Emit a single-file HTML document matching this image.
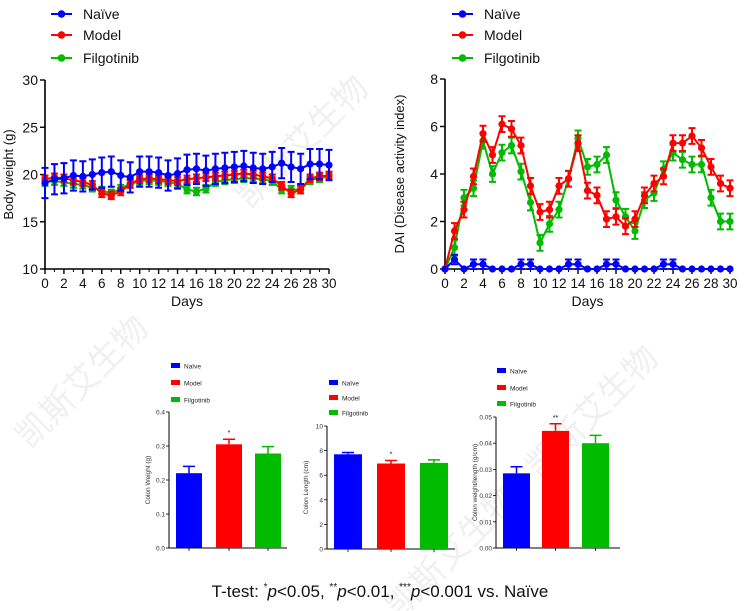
<!DOCTYPE html>
<html><head><meta charset="utf-8"><style>
body{margin:0;background:#fff;}
svg{display:block;font-family:"Liberation Sans",Arial,sans-serif;}
</style></head><body>
<svg id="fig" width="750" height="611" viewBox="0 0 750 611">
<g id="wm" fill="#f0f0f0" font-family="'Liberation Sans','Noto Sans CJK SC',sans-serif" font-size="34">
<text transform="translate(250,210) rotate(-45)">凯斯艾生物</text>
<text transform="translate(30,450) rotate(-45)">凯斯艾生物</text>
<text transform="translate(540,480) rotate(-45)">凯斯艾生物</text>
<text transform="translate(400,620) rotate(-45)">凯斯艾生物</text>
</g>
<g id="root"></g>
<text x="380" y="597" text-anchor="middle" font-size="17" fill="#111">T-test: <tspan font-size="10" dy="-7">*</tspan><tspan dy="7" font-style="italic">p</tspan>&lt;0.05, <tspan font-size="10" dy="-7">**</tspan><tspan dy="7" font-style="italic">p</tspan>&lt;0.01, <tspan font-size="10" dy="-7">***</tspan><tspan dy="7" font-style="italic">p</tspan>&lt;0.001 vs. Naïve</text>
</svg>
<script>
const groups = ["Naïve","Model","Filgotinib"];
const bwNaive = [19.1,19.5,19.6,19.9,19.8,20,20.2,20.3,19.9,19.7,20.3,20.3,20.2,19.9,20.1,20.5,20.6,20.4,20.6,20.7,20.8,20.9,20.7,20.6,20.8,21.2,20.8,20.6,21.1,21.1,21.0];
const bwNaiveErr = 1.6;
const bwModel = [19.5,19.7,19.6,19.4,19.2,18.9,18.0,17.8,18.2,19.0,19.5,19.6,19.5,19.4,19.3,19.5,19.6,19.7,19.8,19.9,20.0,20.1,20.0,19.8,19.6,18.8,18.0,18.4,19.6,19.8,19.9];
const bwModelErr = 0.4;
const bwFilgo = [19.2,19.3,19.2,19.0,18.9,18.6,18.3,18.0,18.5,19.0,19.3,19.4,19.3,19.2,19.0,18.4,18.2,18.5,19.2,19.4,19.5,19.6,19.6,19.5,19.3,18.4,18.4,18.4,19.4,19.6,19.8];
const bwFilgoErr = 0.4;
const daiNaive = [0,0.4,0,0.2,0.2,0,0,0,0.2,0.2,0,0,0,0.2,0.2,0,0,0.2,0.2,0,0,0,0,0.2,0.2,0,0,0,0,0,0];
const daiModel = [0,1.6,2.5,3.9,5.7,4.8,6.1,5.9,5.2,3.5,2.4,2.5,3.5,3.8,5.3,3.3,3.1,2.1,2.2,1.8,2.1,3.1,3.6,3.9,5.3,5.3,5.6,5.1,4.3,3.6,3.4];
const daiFilgo = [0,0.9,3.0,3.4,5.4,4.0,4.9,5.2,4.1,2.8,1.1,1.9,2.5,3.8,5.5,4.3,4.4,4.8,2.9,2.2,1.6,2.9,3.2,4.2,4.9,4.6,4.4,4.4,3.0,2.0,2.0];
const daiErr = 0.33;
const colonWeight = [0.22,0.305,0.278];
const colonWeightErr = [0.02,0.015,0.02];
const colonLength = [7.7,6.95,7.0];
const colonLengthErr = [0.15,0.25,0.25];
const colonRatio = [0.0285,0.0447,0.040];
const colonRatioErr = [0.0025,0.0027,0.003];
const sigMarks = [["","*",""],["","*",""],["","**",""]];
const colors = ["#0000ff","#ff0000","#00bb00"];

const NS="http://www.w3.org/2000/svg";
const root=document.getElementById('root');
function mk(tag,attrs,parent,txt){const e=document.createElementNS(NS,tag);for(const k in attrs)e.setAttribute(k,attrs[k]);if(txt!==undefined)e.textContent=txt;(parent||root).appendChild(e);return e;}

function lineChart(o){
  const g=mk('g',{});
  
  
  const sx=v=>o.x0+(o.x1-o.x0)*v/30;
  const sy=v=>o.y0+(o.y1-o.y0)*(v-o.ymin)/(o.ymax-o.ymin);
  const ax=mk('path',{d:`M${o.x0},${o.y1} V${o.y0} H${o.x1}`,stroke:'#000','stroke-width':1.6,fill:'none'},g);
  
  
  o.yticks.forEach(t=>{
    mk('line',{x1:o.x0-5,x2:o.x0,y1:sy(t),y2:sy(t),stroke:'#000','stroke-width':1.4},g);
    const tl=mk('text',{x:o.x0-7,y:sy(t)+5,'text-anchor':'end','font-size':14,fill:'#111'},g,t);
    
    
  });
  for(let d=0;d<=30;d+=2){
    mk('line',{x1:sx(d),x2:sx(d),y1:o.y0,y2:o.y0+5,stroke:'#000','stroke-width':1.4},g);
    const tl=mk('text',{x:sx(d),y:o.y0+19,'text-anchor':'middle','font-size':13.5,fill:'#111'},g,d);
    
    
  }
  for(let d=1;d<30;d+=2) mk('line',{x1:sx(d),x2:sx(d),y1:o.y0,y2:o.y0+3,stroke:'#000','stroke-width':1},g);
  const xt=mk('text',{x:(o.x0+o.x1)/2,y:o.y0+37,'text-anchor':'middle','font-size':14,fill:'#111'},g,'Days');
  
  
  const yt=mk('text',{transform:`translate(${o.ytx},${(o.y0+o.y1)/2}) rotate(-90)`,'text-anchor':'middle','font-size':13,fill:'#111'},g,o.ytitle);
  
  
  [2,1,0].forEach(i=>{
    const s=o.series[i], err=o.errs[i];
    const sg=mk('g',{},g);
    
    
    mk('polyline',{points:s.map((v,d)=>sx(d)+','+sy(v)).join(' '),fill:'none',stroke:colors[i],'stroke-width':2},sg);
    s.forEach((v,d)=>{
      const e=Array.isArray(err)?err[d]:err;
      if(e>0&&v>0){
        const yh=sy(v+e), yl=sy(Math.max(o.ymin,v-e));
        mk('path',{d:`M${sx(d)},${yh}V${yl}M${sx(d)-3.5},${yh}h7M${sx(d)-3.5},${yl}h7`,stroke:colors[i],'stroke-width':2,fill:'none'},sg);
      }
      const c=mk('circle',{cx:sx(d),cy:sy(v),r:3.6,fill:colors[i]},sg);
      
      
    });
  });
  groups.forEach((n,i)=>{
    const y=o.legY[i];
    const lg=mk('g',{});
    
    
    mk('line',{x1:o.legX,x2:o.legX+21,y1:y,y2:y,stroke:colors[i],'stroke-width':2},lg);
    mk('circle',{cx:o.legX+10.5,cy:y,r:3.8,fill:colors[i]},lg);
    mk('text',{x:o.legX+32,y:y+5,'font-size':14,fill:'#111'},lg,n);
  });
}
lineChart({name:'body-weight-chart',x0:45,x1:329,y0:269,y1:80,ymin:10,ymax:30,yticks:[10,15,20,25,30],ytitle:'Body weight (g)',ytx:13,
  series:[bwNaive,bwModel,bwFilgo],errs:[bwNaiveErr,bwModelErr,bwFilgoErr],legX:51,legY:[14,35,58]});
lineChart({name:'dai-chart',x0:445,x1:730,y0:269,y1:79,ymin:0,ymax:8,yticks:[0,2,4,6,8],ytitle:'DAI (Disease activity index)',ytx:404,
  series:[daiNaive,daiModel,daiFilgo],errs:[0.2,daiErr,daiErr],legX:452,legY:[14,35,58]});

function barChart(o){
  const g=mk('g',{});
  
  
  const sy=v=>o.y0+(o.y1-o.y0)*v/o.ymax;
  mk('path',{d:`M${o.x0},${o.y1} V${o.y0} H${o.xe}`,stroke:'#000','stroke-width':1,fill:'none'},g);
  o.ticks.forEach((t,k)=>{
    mk('line',{x1:o.x0-3,x2:o.x0,y1:sy(t),y2:sy(t),stroke:'#000','stroke-width':0.8},g);
    const tl=mk('text',{x:o.x0-4,y:sy(t)+2.5,'text-anchor':'end','font-size':6.5,fill:'#333'},g,o.tickLabels[k]);
    
    
  });
  const yt=mk('text',{transform:`translate(${o.x0-19},${(o.y0+o.y1)/2}) rotate(-90)`,'text-anchor':'middle','font-size':6.5,fill:'#333'},g,o.ytitle);
  
  
  o.vals.forEach((v,i)=>{
    const bx=o.bx[i], w=o.bw;
    const b=mk('rect',{x:bx,y:sy(v),width:w,height:o.y0-sy(v),fill:colors[i]},g);
    
    
    const cx=bx+w/2, yh=sy(v+o.errs[i]);
    mk('path',{d:`M${cx},${sy(v)}V${yh}M${cx-6},${yh}h12`,stroke:colors[i],'stroke-width':1.5,fill:'none'},g);
    mk('line',{x1:cx,x2:cx,y1:o.y0,y2:o.y0+3,stroke:'#000','stroke-width':0.8},g);
    if(o.sig[i]){const s=mk('text',{x:cx,y:yh-4,'text-anchor':'middle','font-size':7,fill:'#111'},g,o.sig[i]);
      
      }
  });
  groups.forEach((n,i)=>{
    const lg=mk('g',{});
    
    
    mk('rect',{x:o.lx,y:o.ly[i]-3,width:9,height:5,fill:colors[i]},lg);
    mk('text',{x:o.lx+13,y:o.ly[i]+2.5,'font-size':6.5,fill:'#222'},lg,n);
  });
}
barChart({name:'colon-weight-chart',x0:169,xe:287,y0:548,y1:412,ymax:0.4,ticks:[0,0.1,0.2,0.3,0.4],tickLabels:['0.0','0.1','0.2','0.3','0.4'],
  ytitle:'Colon Weight (g)',vals:colonWeight,errs:colonWeightErr,sig:sigMarks[0],bx:[176,216,255],bw:26,lx:171,ly:[366,383,400]});
barChart({name:'colon-length-chart',x0:327,xe:455,y0:549,y1:426,ymax:10,ticks:[0,2,4,6,8,10],tickLabels:['0','2','4','6','8','10'],
  ytitle:'Colon Length (cm)',vals:colonLength,errs:colonLengthErr,sig:sigMarks[1],bx:[334,377,420],bw:28,lx:329,ly:[383,398,413]});
barChart({name:'colon-ratio-chart',x0:496,xe:620,y0:548,y1:417,ymax:0.05,ticks:[0,0.01,0.02,0.03,0.04,0.05],tickLabels:['0.00','0.01','0.02','0.03','0.04','0.05'],
  ytitle:'Colon weight/length (g/cm)',vals:colonRatio,errs:colonRatioErr,sig:sigMarks[2],bx:[503,542,582],bw:27,lx:497,ly:[371,388,404]});
</script>
</body></html>
